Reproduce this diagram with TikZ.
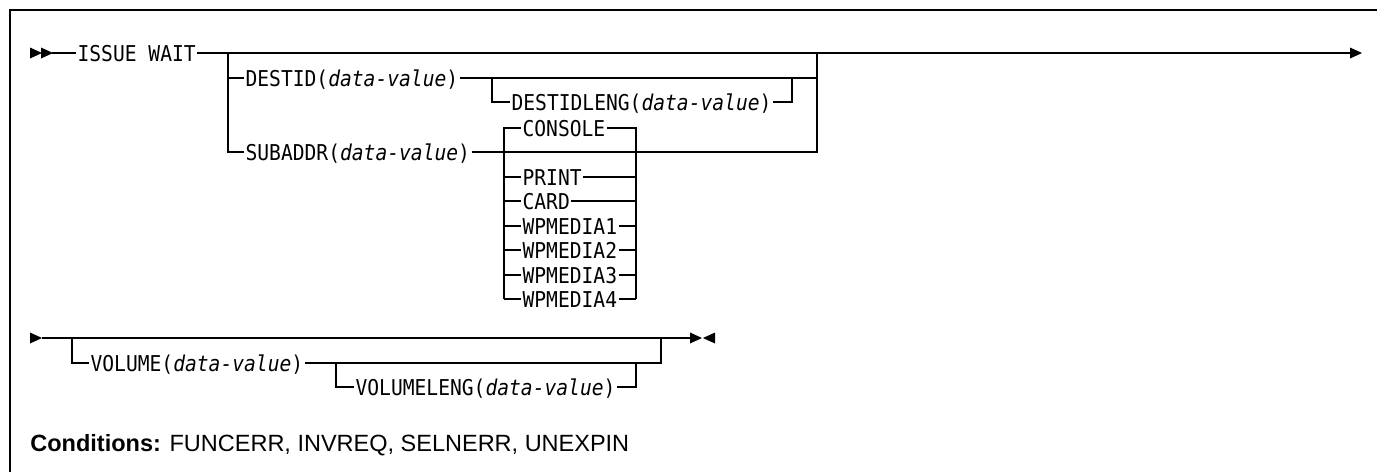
\documentclass[tikz,border=0pt]{standalone}
\usepackage{fontspec}
\setmonofont{DejaVu Sans Mono}[FakeStretch=0.9]
\setsansfont{Liberation Sans}
\usetikzlibrary{positioning}

\newcommand{\rtri}[2]{\fill (#1,#2-5.5) -- (#1+12,#2) -- (#1,#2+5.5) -- cycle;}
\newcommand{\ltri}[2]{\fill (#1+12,#2-5.5) -- (#1,#2) -- (#1+12,#2+5.5) -- cycle;}
\newcommand{\dval}{\textit{data-value}}

\begin{document}
\begin{tikzpicture}[
  x=0.5pt, y=-0.5pt,
  kw/.style={font=\ttfamily\fontsize{10.9}{12}\selectfont, inner xsep=0.6pt, inner ysep=0pt, text height=8pt, text depth=0pt, anchor=west},
  rail/.style={line width=0.6pt},
  frame/.style={line width=0.8pt}
]
  \useasboundingbox (0,0) rectangle (1377,472);
  \draw[frame] (1377,10) -- (10,10) -- (10,472);

  % first line
  \coordinate (start1) at (52,53);
  \coordinate (end1) at (1350,53);
  \coordinate (bl) at (228,53);
  \coordinate (br) at (817,53);
  \node[kw] (issue) at (76,53) {ISSUE WAIT};
  \rtri{30}{53}
  \rtri{41}{53}
  \draw[rail] (start1) -- (issue.west);
  \draw[rail] (issue.east) -- (end1);
  \rtri{1350}{53}

  \node[kw] (destid) at (244,78) {DESTID(\dval)};
  \node[kw] (subaddr) at (244,152) {SUBADDR(\dval)};
  \draw[rail] (bl) |- (subaddr.west);
  \draw[rail] (bl |- destid) -- (destid.west);
  \draw[rail] (destid.east) -- (br |- destid);
  \draw[rail] (subaddr.east) -| (br);

  \coordinate (dlL) at (492,78);
  \coordinate (dlR) at (792,78);
  \node[kw] (destidleng) at (510,102) {DESTIDLENG(\dval)};
  \draw[rail] (dlL) |- (destidleng.west);
  \draw[rail] (destidleng.east) -| (dlR);

  % device types
  \coordinate (cL) at (504,128);
  \coordinate (cR) at (636,128);
  \node[kw] (console) at (521,128) {CONSOLE};
  \foreach \t/\n/\y in {PRINT/print/177, CARD/card/201, WPMEDIA1/wpa/226,
                        WPMEDIA2/wpb/250, WPMEDIA3/wpc/275, WPMEDIA4/wpd/299} {
    \node[kw] (\n) at (521,\y) {\t};
    \draw[rail] (cL |- \n) -- (\n.west);
    \draw[rail] (\n.east) -- (cR |- \n);
  }
  \draw[rail] (console.west) -- (cL) -- (cL |- wpd);
  \draw[rail] (console.east) -- (cR) -- (cR |- wpd);

  % second line
  \coordinate (start2) at (42,338);
  \coordinate (end2) at (690,338);
  \rtri{30}{338}
  \draw[rail] (start2) -- (end2);
  \rtri{690}{338}
  \ltri{703}{338}

  \coordinate (vL) at (72,338);
  \coordinate (vR) at (661,338);
  \node[kw] (volume) at (89,363) {VOLUME(\dval)};
  \draw[rail] (vL) |- (volume.west);
  \draw[rail] (volume.east) -| (vR);

  \coordinate (vlL) at (336,363);
  \coordinate (vlR) at (636,363);
  \node[kw] (volumeleng) at (354,387) {VOLUMELENG(\dval)};
  \draw[rail] (vlL) |- (volumeleng.west);
  \draw[rail] (volumeleng.east) -| (vlR);

  \node[font=\sffamily\fontsize{11.75}{14}\selectfont, anchor=base west, inner sep=0pt] (cond) at (30,451)
    {\textbf{Conditions:} FUNCERR, INVREQ, SELNERR, UNEXPIN};
\end{tikzpicture}
\end{document}
